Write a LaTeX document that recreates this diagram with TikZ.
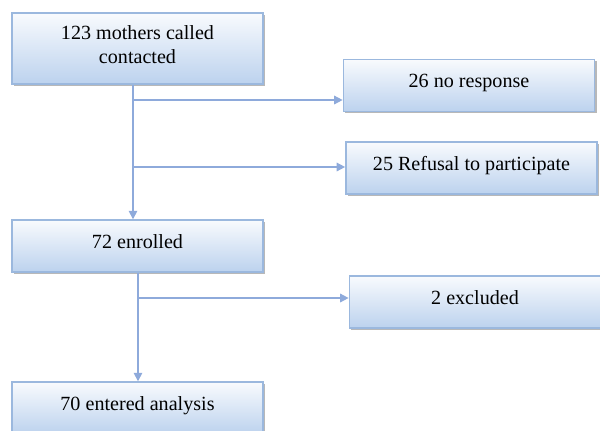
\documentclass[tikz,border=0pt]{standalone}
\usepackage{fontspec}
\setmainfont{Liberation Serif}
\newfontfamily\letra{Liberation Serif}
\usetikzlibrary{positioning,calc,shadows,arrows.meta}
\definecolor{borde}{HTML}{9BB8DE}
\definecolor{relleno}{HTML}{BCD2EE}
\definecolor{flecha}{HTML}{8EAADB}
\definecolor{sombra}{HTML}{A6A6A6}

\begin{document}
\begin{tikzpicture}[x=0.025cm, y=-0.025cm,
  font=\letra\fontsize{14.3}{16.5}\selectfont,
  caja/.style={draw=borde, line width=1pt, top color=white!90!relleno, bottom color=relleno,
    minimum width=6.28cm, minimum height=1.3cm, align=center, text height=10pt, text depth=7pt,
    drop shadow={shadow xshift=1.4pt, shadow yshift=-1.4pt, fill=sombra, opacity=0.8}},
  linea/.style={flecha, line width=1.1pt},
  flec/.style={linea, -{Triangle[length=6pt,width=6pt]}}]
\useasboundingbox (0,0) rectangle (600,430);

% ================= cajas =================
\node[caja, minimum height=1.78cm, text height=26.5pt, text depth=5.6pt] (llam) at (137.5,48.5) {123 mothers called\\contacted};
\node[caja] (noresp) at (469,85.5) {26 no response};
\node[caja] (rech) at (471.5,168) {25 Refusal to participate};
\node[caja] (inscr) at (137.5,246) {72 enrolled};
\node[caja] (excl) at (475,302) {2 excluded};
\node[caja] (anal) at (137.5,408) {70 entered analysis};

% ================= uniones =================
\coordinate (j1) at (133,100);
\coordinate (j2) at (133,167);
\coordinate (j3) at (138,298);

% ================= conectores =================
\draw[flec] (j1 |- llam.south) -- (j1 |- inscr.north);
\draw[flec] (j1) -- (j1 -| noresp.west);
\draw[flec] (j2) -- (j2 -| rech.west);
\draw[flec] (j3 |- inscr.south) -- (j3 |- anal.north);
\draw[flec] (j3) -- (j3 -| excl.west);

\end{tikzpicture}
\end{document}
